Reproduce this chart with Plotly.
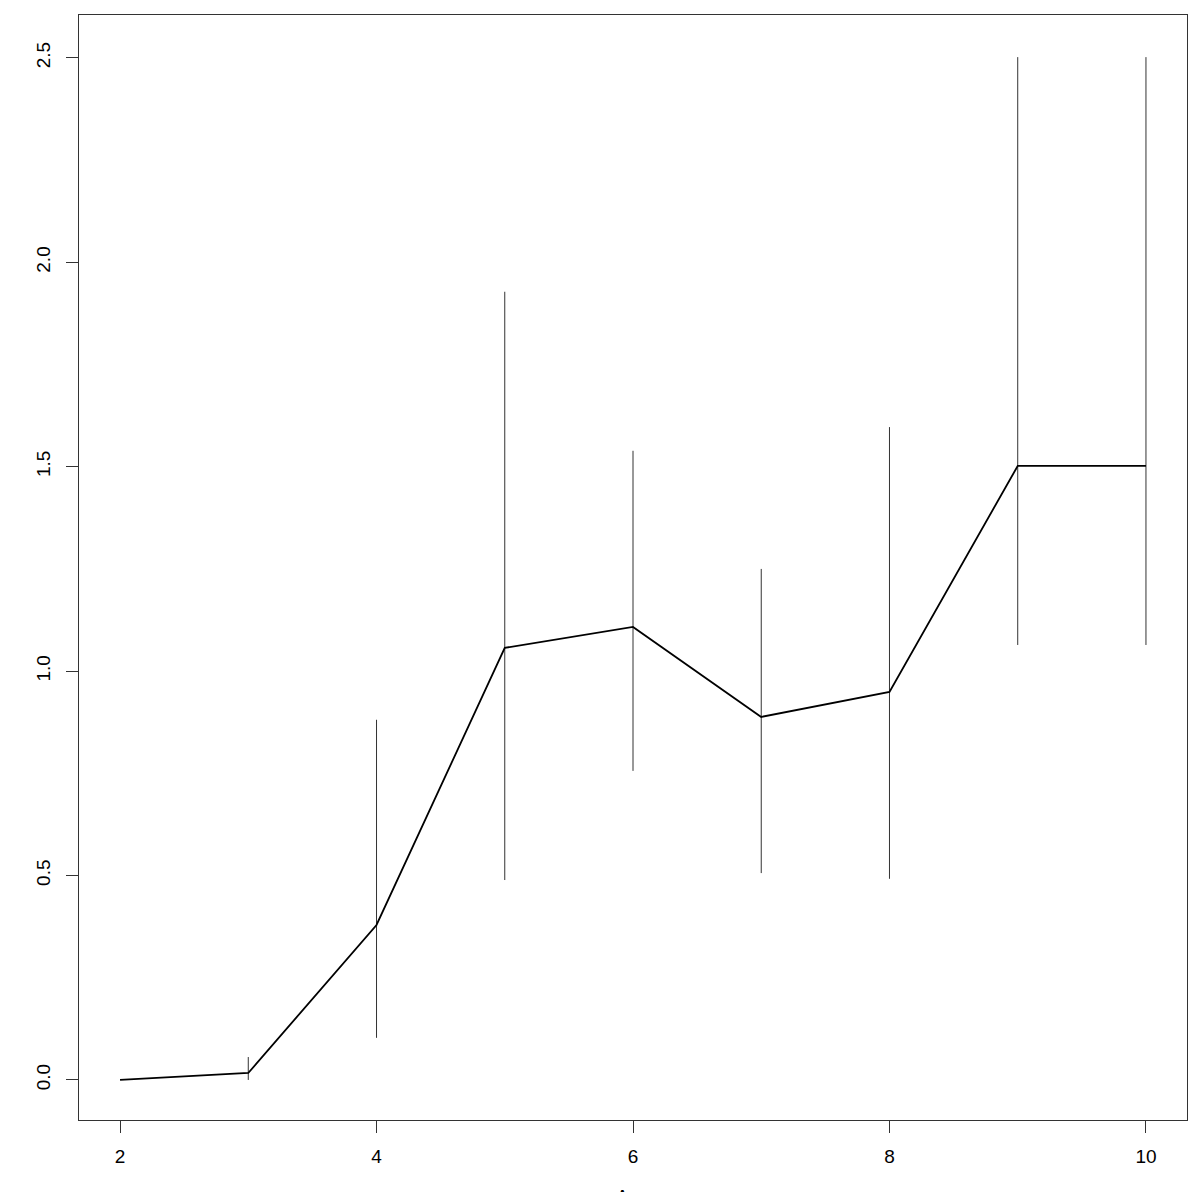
import plotly.graph_objects as go

ages = [2, 3, 4, 5, 6, 7, 8, 9, 10]
means = [0.0, 0.017, 0.379, 1.057, 1.108, 0.888, 0.949, 1.502, 1.502]
upper = [0.0, 0.056, 0.881, 1.928, 1.539, 1.250, 1.597, 2.502, 2.502]
lower = [0.0, 0.0, 0.103, 0.489, 0.756, 0.506, 0.492, 1.064, 1.064]

x_ticks = [2, 4, 6, 8, 10]
y_ticks = [0.0, 0.5, 1.0, 1.5, 2.0, 2.5]
y_tick_labels = ["0.0", "0.5", "1.0", "1.5", "2.0", "2.5"]

err_plus = [u - m for u, m in zip(upper, means)]
err_minus = [m - l for m, l in zip(means, lower)]

fig = go.Figure()
fig.add_trace(go.Scatter(
    x=ages, y=means, mode="lines",
    line=dict(color="black", width=1.8),
    error_y=dict(type="data", symmetric=False, array=err_plus, arrayminus=err_minus,
                 width=0, thickness=1, color="#333333"),
    showlegend=False,
))

# page body has an 8px margin, so figure coords = reference coords - 8
W, H = 1184, 1184
L, R, T, B = 71, 5, 7, 72
pw = W - L - R
ph = H - T - B

font_ticks = dict(family="Liberation Sans, Arial", size=19, color="black")
axis_common = dict(showline=True, linecolor="#333333", linewidth=1, mirror=True,
                   ticks="outside", ticklen=12, tickcolor="#333333", showgrid=False,
                   zeroline=False, tickfont=font_ticks)

fig.update_layout(
    width=W, height=H,
    margin=dict(l=L, r=R, t=T, b=B),
    plot_bgcolor="white", paper_bgcolor="white",
    xaxis=dict(range=[1.68, 10.32], tickvals=x_ticks, ticktext=[str(v) for v in x_ticks],
               ticklabelstandoff=7, **axis_common),
    yaxis=dict(range=[-0.098, 2.605], tickvals=y_ticks, ticktext=y_tick_labels, tickangle=-90,
               ticklabelstandoff=8, **axis_common),
    annotations=[
        dict(text="Age", xref="paper", yref="paper", x=0.5, y=-(1196 - 8 - T - ph) / ph,
             showarrow=False, xanchor="center", yanchor="middle",
             font=dict(family="Liberation Sans, Arial", size=19, color="black")),
        dict(text="FPbal", xref="paper", yref="paper", x=(-12 - L) / pw, y=0.5,
             textangle=-90, showarrow=False, xanchor="center", yanchor="middle",
             font=dict(family="Liberation Sans, Arial", size=19, color="black")),
    ],
)

fig.write_html("out.html")
